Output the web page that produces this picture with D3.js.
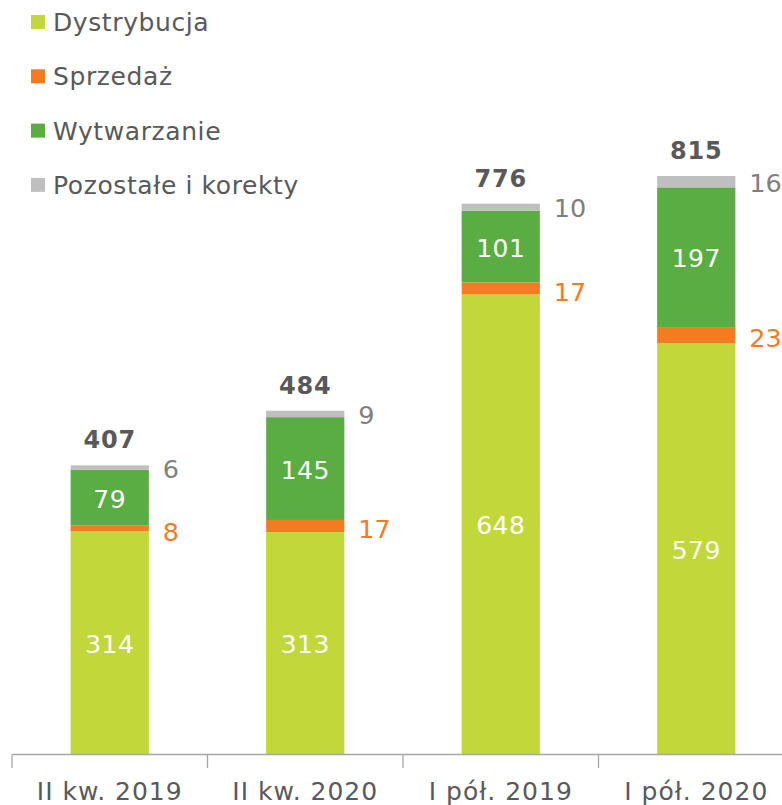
<!DOCTYPE html>
<html><head><meta charset="utf-8">
<script src="https://cdn.jsdelivr.net/npm/d3@7"></script>
<style>body{margin:0;background:#fff}svg{display:block}</style>
</head><body>
<script>
const categories = ["II kw. 2019", "II kw. 2020", "I pół. 2019", "I pół. 2020"];
const seriesNames = ["Dystrybucja", "Sprzedaż", "Wytwarzanie", "Pozostałe i korekty"];
const dystrybucja = [314, 313, 648, 579];
const sprzedaz = [8, 17, 17, 23];
const wytwarzanie = [79, 145, 101, 197];
const pozostale = [6, 9, 10, 16];
const totals = [407, 484, 776, 815];

const colors = ["#c2d83a", "#f47c20", "#5aad43", "#bfbfbf"];
const W = 782, H = 805;
const svg = d3.select("body").append("svg").attr("width", W).attr("height", H);
const font = "'DejaVu Sans', Verdana, sans-serif";

const x = d3.scaleBand().domain(categories).range([12, 794]).paddingInner(0.6).paddingOuter(0.3);
const y = d3.scaleLinear().domain([0, 815]).range([754, 176]);

const series = [dystrybucja, sprzedaz, wytwarzanie, pozostale];
const stackData = categories.map((c, i) => { const o = {cat: c}; seriesNames.forEach((n, k) => o[n] = series[k][i]); return o; });
const stack = d3.stack().keys(seriesNames)(stackData);

// bars
stack.forEach((layer, k) => {
  svg.append("g").selectAll("rect").data(layer).join("rect")
    .attr("x", d => x(d.data.cat))
    .attr("width", x.bandwidth())
    .attr("y", d => y(d[1]))
    .attr("height", d => y(d[0]) - y(d[1]))
    .attr("fill", colors[k]);
});

// inside labels (Dystrybucja & Wytwarzanie)
[0, 2].forEach(k => {
  svg.append("g").selectAll("text").data(stack[k]).join("text")
    .attr("x", d => x(d.data.cat) + x.bandwidth() / 2)
    .attr("y", d => (y(d[0]) + y(d[1])) / 2 + 1)
    .attr("dy", "0.36em")
    .attr("text-anchor", "middle")
    .attr("fill", "#fff")
    .style("font-family", font).style("font-size", "25px").style("letter-spacing", "0.5px")
    .text(d => d[1] - d[0]);
});

// side labels
const sideColors = {1: "#f47c20", 3: "#7f7f7f"};
[1, 3].forEach(k => {
  svg.append("g").selectAll("text").data(stack[k]).join("text")
    .attr("x", d => x(d.data.cat) + x.bandwidth() + 14)
    .attr("y", d => (y(d[0]) + y(d[1])) / 2 + (k === 1 ? 3 : 1))
    .attr("dy", "0.36em")
    .attr("fill", sideColors[k])
    .style("font-family", font).style("font-size", "25.5px")
    .text(d => d[1] - d[0]);
});

// totals
svg.append("g").selectAll("text").data(categories).join("text")
  .attr("x", c => x(c) + x.bandwidth() / 2)
  .attr("y", (c, i) => y(totals[i]) - 17)
  .attr("text-anchor", "middle")
  .attr("fill", "#595959")
  .style("font-family", font).style("font-size", "24px").style("font-weight", "bold")
  .style("letter-spacing", "0.8px")
  .text((c, i) => totals[i]);

// axis
const axis = svg.append("g").attr("transform", "translate(0,754)")
  .call(d3.axisBottom(x).tickSize(0).tickPadding(0));
axis.select(".domain").attr("stroke", "#a6a6a6").attr("stroke-width", 1.3);
axis.selectAll(".tick text").remove();
const bounds = categories.map(c => x(c) - x.step() * x.paddingInner() / 2);
axis.append("g").selectAll("line").data(bounds).join("line")
  .attr("x1", d => d).attr("x2", d => d).attr("y1", 0).attr("y2", 14)
  .attr("stroke", "#a6a6a6").attr("stroke-width", 1.3);
axis.append("g").selectAll("text").data(categories).join("text")
  .attr("x", c => x(c) + x.bandwidth() / 2)
  .attr("y", 46)
  .attr("text-anchor", "middle")
  .attr("fill", "#595959")
  .style("font-family", font)
  .style("font-size", "25px").style("letter-spacing", "1px")
  .text(c => c);

// legend
const leg = svg.append("g");
seriesNames.forEach((n, k) => {
  const cy = 22 + k * 54.3;
  leg.append("rect").attr("x", 31).attr("y", cy - 7).attr("width", 14).attr("height", 14).attr("fill", colors[k]);
  leg.append("text").attr("x", 53).attr("y", cy).attr("dy", "0.36em")
    .attr("fill", "#595959")
    .style("font-family", font).style("font-size", "25px").style("letter-spacing", "0.6px")
    .text(n);
});
</script>
</body></html>
